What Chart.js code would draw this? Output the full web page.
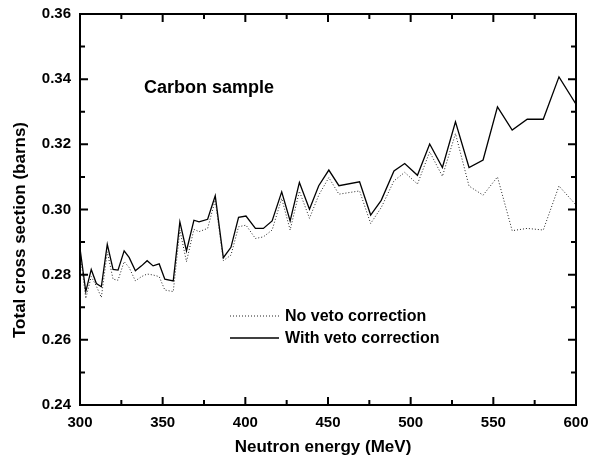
<!DOCTYPE html>
<html>
<head>
<meta charset="utf-8">
<script src="https://cdn.jsdelivr.net/npm/chart.js@4/dist/chart.umd.min.js"></script>
<style>
  html, body { margin: 0; padding: 0; background: #fff; }
  #wrap { width: 589px; height: 464px; }
</style>
</head>
<body>
<div id="wrap"><canvas id="c" width="589" height="464"></canvas></div>
<script>
/* Carbon total cross section, with / without veto correction */

const energy = [
  300.0, 303.5, 306.8, 309.9, 312.9, 316.5, 320.0, 323.0, 326.7, 329.7,
  333.5, 337.2, 340.6, 344.2, 347.9, 351.3, 356.4, 360.4, 364.4, 368.9,
  372.0, 377.2, 381.8, 386.7, 391.3, 395.9, 400.4, 406.1, 410.9, 416.2,
  422.0, 427.1, 432.7, 438.8, 444.4, 450.5, 456.6, 469.1, 475.8, 482.2,
  489.9, 496.4, 504.1, 511.5, 519.2, 527.1, 535.3, 543.8, 552.5, 561.4,
  570.5, 580.2, 589.7, 600.0
];

const withVeto = [
  0.2881, 0.2748, 0.2816, 0.2773, 0.2763, 0.2893, 0.2816, 0.2814, 0.2873, 0.2853,
  0.2812, 0.2827, 0.2843, 0.2827, 0.2833, 0.2786, 0.2781, 0.2962, 0.2873, 0.2967,
  0.2962, 0.2970, 0.3042, 0.2852, 0.2884, 0.2976, 0.2980, 0.2942, 0.2942, 0.2965,
  0.3054, 0.2965, 0.3083, 0.3001, 0.3073, 0.3121, 0.3073, 0.3085, 0.2983, 0.3028,
  0.3118, 0.3141, 0.3105, 0.3201, 0.3129, 0.3269, 0.3129, 0.3152, 0.3315, 0.3244,
  0.3277, 0.3277, 0.3407, 0.3323
];

const noVeto = [
  0.2870, 0.2727, 0.2794, 0.2765, 0.2730, 0.2870, 0.2786, 0.2783, 0.2840, 0.2822,
  0.2781, 0.2794, 0.2802, 0.2799, 0.2794, 0.2753, 0.2748, 0.2937, 0.2840, 0.2939,
  0.2932, 0.2942, 0.3029, 0.2843, 0.2860, 0.2947, 0.2952, 0.2911, 0.2916, 0.2937,
  0.3034, 0.2937, 0.3056, 0.2973, 0.3044, 0.3098, 0.3047, 0.3057, 0.2957, 0.3006,
  0.3088, 0.3114, 0.3078, 0.3177, 0.3102, 0.3233, 0.3072, 0.3044, 0.3100, 0.2935,
  0.2942, 0.2937, 0.3072, 0.3014
];

const seriesLabels = ['No veto correction', 'With veto correction'];
const xTicks = [300, 350, 400, 450, 500, 550, 600];
const yTicks = [0.24, 0.26, 0.28, 0.30, 0.32, 0.34, 0.36];
const xTitle = 'Neutron energy (MeV)';
const yTitle = 'Total cross section (barns)';
const note = 'Carbon sample';

const FONT = "'Liberation Sans', Arial, sans-serif";

const toPoints = (ys) => ys.map((y, i) => ({ x: energy[i], y }));

/* frame, inward ticks, legend and text labels */
const decor = {
  id: 'decor',
  afterDraw(chart) {
    const { ctx, chartArea: a, scales: { x, y } } = chart;
    ctx.save();
    ctx.strokeStyle = '#000';
    ctx.lineWidth = 2;
    ctx.strokeRect(a.left, a.top, a.right - a.left, a.bottom - a.top);

    // x ticks every 25 MeV, major at the labelled ones
    for (let v = xTicks[0]; v <= xTicks[xTicks.length - 1]; v += 25) {
      const px = x.getPixelForValue(v);
      const len = xTicks.includes(v) ? 8 : 5;
      ctx.beginPath();
      ctx.moveTo(px, a.bottom); ctx.lineTo(px, a.bottom - len);
      ctx.moveTo(px, a.top); ctx.lineTo(px, a.top + len);
      ctx.stroke();
    }
    // y ticks every 0.01
    for (let k = 0; k <= 12; k++) {
      const v = 0.24 + k * 0.01;
      const py = y.getPixelForValue(v);
      const len = k % 2 === 0 ? 8 : 5;
      ctx.beginPath();
      ctx.moveTo(a.left, py); ctx.lineTo(a.left + len, py);
      ctx.moveTo(a.right, py); ctx.lineTo(a.right - len, py);
      ctx.stroke();
    }

    ctx.fillStyle = '#000';
    ctx.textBaseline = 'middle';

    // legend
    ctx.font = 'bold 16px ' + FONT;
    const legendY = [316, 338];
    chart.data.datasets.forEach((ds, i) => {
      ctx.beginPath();
      ctx.lineWidth = ds.borderWidth;
      ctx.strokeStyle = ds.borderColor;
      ctx.setLineDash(ds.borderDash || []);
      ctx.moveTo(230, legendY[i]);
      ctx.lineTo(279, legendY[i]);
      ctx.stroke();
      ctx.setLineDash([]);
      ctx.textAlign = 'left';
      ctx.fillText(ds.label, 285, legendY[i] + 1);
    });

    // annotation
    ctx.font = 'bold 18px ' + FONT;
    ctx.fillText(note, 144, 88);

    // axis titles
    ctx.font = 'bold 17px ' + FONT;
    ctx.textAlign = 'center';
    ctx.fillText(xTitle, 323, 447);
    ctx.translate(20, 230);
    ctx.rotate(-Math.PI / 2);
    ctx.fillText(yTitle, 0, 0);
    ctx.restore();
  }
};

new Chart(document.getElementById('c'), {
  type: 'line',
  data: {
    datasets: [
      {
        label: seriesLabels[0],
        data: toPoints(noVeto),
        borderColor: '#222',
        borderWidth: 1,
        borderDash: [1, 2],
        pointRadius: 0,
        tension: 0,
      },
      {
        label: seriesLabels[1],
        data: toPoints(withVeto),
        borderColor: '#000',
        borderWidth: 1.3,
        pointRadius: 0,
        tension: 0,
      },
    ],
  },
  options: {
    responsive: false,
    animation: false,
    layout: { padding: { left: 0, right: 13, top: 14, bottom: 0 } },
    plugins: {
      legend: { display: false },
      tooltip: { enabled: false },
    },
    scales: {
      x: {
        type: 'linear',
        min: 300,
        max: 600,
        afterFit: (s) => { s.height = 59; s.paddingLeft = 0; s.paddingRight = 0; },
        afterBuildTicks: (s) => { s.ticks = xTicks.map(v => ({ value: v })); },
        grid: { display: false, drawTicks: false },
        border: { display: false },
        ticks: {
          color: '#000',
          padding: 9,
          font: { family: FONT, size: 15, weight: 'bold' },
          callback: (v) => String(v),
        },
      },
      y: {
        min: 0.24,
        max: 0.36,
        afterFit: (s) => { s.width = 80; s.paddingTop = 0; s.paddingBottom = 0; },
        afterBuildTicks: (s) => { s.ticks = yTicks.map(v => ({ value: v })); },
        grid: { display: false, drawTicks: false },
        border: { display: false },
        ticks: {
          color: '#000',
          padding: 9,
          font: { family: FONT, size: 15, weight: 'bold' },
          callback: (v) => Number(v).toFixed(2),
        },
      },
    },
  },
  plugins: [decor],
});
</script>
</body>
</html>
